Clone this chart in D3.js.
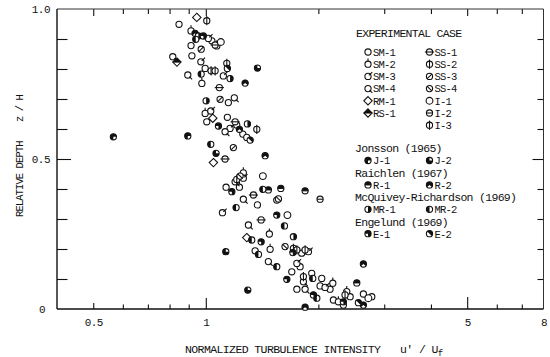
<!DOCTYPE html>
<html>
<head>
<meta charset="utf-8">
<script src="https://cdn.jsdelivr.net/npm/d3@7"></script>
<style>
  body { margin: 0; background: #fff; }
  svg text { font-family: "Liberation Mono", "DejaVu Sans Mono", monospace; fill: #111; }
</style>
</head>
<body>
<svg id="chart"></svg>
<script>
/* global d3 */

// ---- data: [u'/Uf, z/H] ----
var SM_1 = [[0.848,0.949],[1.038,0.894],[0.913,0.878],[0.918,0.844],[0.996,0.802],[1.149,0.688],
  [1.006,0.624],[1.142,0.639],[1.256,0.583],[1.287,0.572],[1.133,0.406],[1.374,0.347],[1.548,0.363],
  [1.805,0.186],[1.787,0.141],[1.698,0.124],[1.920,0.119],[2.042,0.102],[1.752,0.066],[2.021,0.077],
  [2.149,0.066],[2.432,0.041],[2.779,0.041],[2.194,0.030],[2.333,0.013]];
var SM_2 = [[0.913,0.927],[1.070,0.877],[0.976,0.752],[0.996,0.652],[1.210,0.613],[1.260,0.454],
  [1.230,0.406],[1.479,0.250],[1.486,0.199],[2.186,0.086],[2.382,0.058],[2.262,0.024]];
var SM_3 = [[1.016,0.902],[0.970,0.824],[1.114,0.777],[1.031,0.660],[1.161,0.602],[1.260,0.436],
  [1.108,0.321],[1.881,0.191],[1.752,0.152],[2.084,0.072]];
var SM_4 = [[0.816,0.841],[0.895,0.780],[1.192,0.704],[1.126,0.591],[1.198,0.424],[1.260,0.366],
  [1.300,0.280],[1.355,0.194],[1.470,0.158],[1.824,0.091],[1.843,0.066],[2.639,0.050]];
var RM_1 = [[0.946,0.972],[1.044,0.636],[1.048,0.488],[1.287,0.238]];
var RS_1 = [[0.837,0.823]];
var SS_1 = [[1.059,0.880],[1.087,0.738],[1.198,0.624],[1.126,0.500],[1.341,0.380],[1.406,0.297]];
var SS_2 = [[1.033,0.794],[1.059,0.794],[1.210,0.432],[1.715,0.202],[1.752,0.197],[1.843,0.197],
  [1.824,0.108],[2.357,0.047]];
var SS_3 = [[0.972,0.866],[1.092,0.699],[1.185,0.538]];
var SS_4 = [[1.235,0.443],[1.564,0.367],[1.629,0.208]];
var I_1 = [[1.097,0.890],[1.421,0.443],[1.653,0.313],[2.721,0.036]];
var I_2 = [[2.021,0.366]];
var I_3 = [[1.006,0.961],[1.138,0.819],[1.369,0.599]];
var J_1 = [[0.566,0.574],[0.895,0.577]];
var J_2 = [[1.374,0.803],[1.065,0.519],[1.131,0.191],[1.295,0.063]];
var R_1 = [[1.470,0.397],[1.587,0.402],[1.843,0.394],[2.534,0.087]];
var R_2 = [[0.936,0.919],[1.274,0.753],[1.230,0.599],[1.441,0.511],[2.639,0.150],[2.639,0.013],[1.843,0.006]];
var MR_1 = [[0.955,0.910],[1.161,0.768],[1.002,0.694],[1.292,0.617],[1.715,0.241]];
var MR_2 = [[0.940,0.899],[0.972,0.783],[1.031,0.549],[1.421,0.399],[1.205,0.338],[1.623,0.277],
  [1.327,0.230],[1.383,0.182],[1.548,0.141],[1.932,0.102],[1.981,0.036]];
var E_1 = [[0.985,0.910],[1.081,0.610],[1.174,0.391],[1.548,0.313],[1.406,0.224],[1.709,0.188],
  [1.647,0.099],[1.940,0.047],[2.333,0.024]];
var E_2 = [[1.142,0.802],[1.314,0.563],[2.559,0.021]];

// legend / tick text
var expCol1 = ["SM-1", "SM-2", "SM-3", "SM-4", "RM-1", "RS-1"];
var expCol2 = ["SS-1", "SS-2", "SS-3", "SS-4", "I-1", "I-2", "I-3"];
var authors = ["Jonsson (1965)", "Raichlen (1967)", "McQuivey-Richardson (1969)", "Engelund (1969)"];
var authorCases = [["J-1", "J-2"], ["R-1", "R-2"], ["MR-1", "MR-2"], ["E-1", "E-2"]];
var xLabels = [0.5, 1, 5, 8];
var xMinor = [0.6, 0.7, 0.8, 0.9, 2, 3, 4, 6, 7];
var yLabels = [0, 0.5, 1];
var yMinor = [0.1, 0.2, 0.3, 0.4, 0.6, 0.7, 0.8, 0.9];

var cases = {
  "SM-1": SM_1, "SM-2": SM_2, "SM-3": SM_3, "SM-4": SM_4, "RM-1": RM_1, "RS-1": RS_1,
  "SS-1": SS_1, "SS-2": SS_2, "SS-3": SS_3, "SS-4": SS_4, "I-1": I_1, "I-2": I_2, "I-3": I_3,
  "J-1": J_1, "J-2": J_2, "R-1": R_1, "R-2": R_2, "MR-1": MR_1, "MR-2": MR_2, "E-1": E_1, "E-2": E_2
};

var width = 550, height = 357,
  plot = { left: 57, right: 543.5, top: 9, bottom: 309 },
  ink = "#111";

var svg = d3.select("#chart").attr("width", width).attr("height", height);
svg.append("rect").attr("width", width).attr("height", height).attr("fill", "#fff");

var x = d3.scaleLog().domain([0.4, 8]).range([plot.left, plot.right]);
var y = d3.scaleLinear().domain([0, 1]).range([plot.bottom, plot.top]);

// ticks drawn by axes, inward
function ticks(axis, values, size, tx, ty) {
  var g = svg.append("g")
    .attr("transform", "translate(" + tx + "," + ty + ")")
    .call(axis.tickValues(values).tickSize(size).tickFormat(""));
  g.select(".domain").remove();
  g.selectAll("line").attr("stroke", ink).attr("stroke-width", 1.1);
  return g;
}

ticks(d3.axisBottom(x), xMinor, -4.5, 0, plot.bottom);
ticks(d3.axisBottom(x), [0.5], -6, 0, plot.bottom);
ticks(d3.axisBottom(x), [1], -11, 0, plot.bottom);
ticks(d3.axisBottom(x), [5], -12, 0, plot.bottom);
ticks(d3.axisBottom(x), xMinor, 5, 0, plot.top);
ticks(d3.axisBottom(x), [0.5, 1, 5], 7, 0, plot.top);
ticks(d3.axisRight(y), yMinor, 10.5, plot.left, 0);
ticks(d3.axisRight(y), [0.5], 14, plot.left, 0);
ticks(d3.axisLeft(y), yMinor, 6, plot.right, 0);
ticks(d3.axisLeft(y), [0.5], 11, plot.right, 0);

// frame
svg.append("line").attr("x1", plot.left).attr("x2", plot.right).attr("y1", plot.top).attr("y2", plot.top)
  .attr("stroke", "#333").attr("stroke-width", 1);
svg.append("line").attr("x1", plot.right).attr("x2", plot.right).attr("y1", plot.top).attr("y2", plot.bottom)
  .attr("stroke", "#333").attr("stroke-width", 1);
svg.append("line").attr("x1", plot.left).attr("x2", plot.left).attr("y1", plot.top).attr("y2", plot.bottom)
  .attr("stroke", ink).attr("stroke-width", 1.4);
svg.append("line").attr("x1", plot.left).attr("x2", plot.right).attr("y1", plot.bottom).attr("y2", plot.bottom)
  .attr("stroke", ink).attr("stroke-width", 1.7);

// tick labels
var fmtX = function (d) { return String(d); };
var gx = svg.append("g").attr("transform", "translate(0," + plot.bottom + ")")
  .call(d3.axisBottom(x).tickValues(xLabels).tickSize(0).tickPadding(9).tickFormat(fmtX));
gx.select(".domain").remove();
gx.selectAll("text").attr("fill", ink).style("font-size", "11px").style("letter-spacing", "-0.6px")
  .style("font-family", "Liberation Mono");

var gy = svg.append("g").attr("transform", "translate(" + plot.left + ",0)")
  .call(d3.axisLeft(y).tickValues(yLabels).tickSize(0).tickPadding(7)
    .tickFormat(function (d) { return d === 0 ? "0" : d3.format(".1f")(d); }));
gy.select(".domain").remove();
gy.selectAll("text").attr("fill", ink).style("font-size", "11px").style("letter-spacing", "-0.5px")
  .style("font-family", "Liberation Mono")
  .attr("x", function (d) { return d === 0 ? -12 : -7; });

// axis titles
var xt = svg.append("text").attr("x", 185).attr("y", 353)
  .style("font-size", "11.5px").style("letter-spacing", "-0.6px");
xt.append("tspan").text("NORMALIZED TURBULENCE INTENSITY");
xt.append("tspan").attr("x", 400).text("u' / U");
xt.append("tspan").attr("dy", 2.5).style("font-size", "9px").text("f");

var yt = svg.append("text").attr("transform", "translate(23,217) rotate(-90)")
  .style("font-size", "10.5px").style("letter-spacing", "-0.9px");
yt.append("tspan").text("RELATIVE DEPTH");
yt.append("tspan").attr("x", 95).text("z / H");

// symbols
var halfFill = {
  "J-1": [Math.PI, 2.5 * Math.PI], "J-2": [0.5 * Math.PI, 2 * Math.PI],
  "R-1": [-0.5 * Math.PI, 0.5 * Math.PI], "R-2": [-0.72 * Math.PI, 0.72 * Math.PI],
  "MR-1": [0, Math.PI], "MR-2": [Math.PI, 2 * Math.PI],
  "E-1": [-0.5 * Math.PI, Math.PI], "E-2": [-0.25 * Math.PI, 0.75 * Math.PI]
};

function symbol(g, type) {
  var r = 3.1, s = r * 1.35;
  var arc = d3.arc().innerRadius(0).outerRadius(r);
  var marks = {
    "SM-2": [[0, -r, 0, -r - 2.5]],
    "SM-3": [[0.3 * r, -0.3 * r, 1.35 * r, -1.35 * r]],
    "SM-4": [[0.5 * r, 0.5 * r, 1.4 * r, 1.4 * r]],
    "SS-1": [[-r - 1.5, 0, r + 1.5, 0]],
    "SS-2": [[0, -r - 1.5, 0, r + 1.5]],
    "SS-3": [[-0.75 * r, 0.75 * r, 0.75 * r, -0.75 * r]],
    "SS-4": [[-0.75 * r, -0.75 * r, 0.75 * r, 0.75 * r]],
    "I-2": [[-r, 0, r, 0]],
    "I-3": [[0, -r - 1.5, 0, r + 1.5]],
    "R-1": [[-r, 0, r, 0]],
    "RS-1": [[-s, 0, s, 0]]
  };
  if (type === "RM-1" || type === "RS-1") {
    g.append("path").attr("d", "M0," + (-s) + "L" + s + ",0L0," + s + "L" + (-s) + ",0Z")
      .attr("fill", "#fff").attr("stroke", ink).attr("stroke-width", 1.1);
    if (type === "RS-1")
      g.append("path").attr("d", "M" + (-s) + ",0L0," + (-s) + "L" + s + ",0Z").attr("fill", ink);
  } else {
    g.append("circle").attr("r", type === "I-1" ? r + 0.3 : r)
      .attr("fill", "#fff").attr("stroke", ink).attr("stroke-width", 1.1);
    if (halfFill[type])
      g.append("path").attr("fill", ink)
        .attr("d", arc({ startAngle: halfFill[type][0], endAngle: halfFill[type][1] }));
  }
  (marks[type] || []).forEach(function (m) {
    g.append("line").attr("x1", m[0]).attr("y1", m[1]).attr("x2", m[2]).attr("y2", m[3])
      .attr("stroke", ink).attr("stroke-width", 1.1);
  });
}

// points
Object.keys(cases).forEach(function (name) {
  svg.append("g").attr("class", "case")
    .selectAll("g").data(cases[name]).enter().append("g")
    .attr("transform", function (d) { return "translate(" + x(d[0]) + "," + y(d[1]) + ")"; })
    .each(function () { symbol(d3.select(this), name); });
});

// legend
var leg = svg.append("g").attr("class", "legend");
leg.append("text").attr("x", 356).attr("y", 37)
  .style("font-size", "11.5px").style("letter-spacing", "-0.7px").text("EXPERIMENTAL CASE");

function legendItem(name, sx, cy) {
  symbol(leg.append("g").attr("transform", "translate(" + sx + "," + cy + ")"), name);
  leg.append("text").attr("x", sx + 5).attr("y", cy + 3.8)
    .style("font-size", "10.5px").style("letter-spacing", "-0.8px").text(name);
}
expCol1.forEach(function (n, i) { legendItem(n, 368, 52 + i * 12.2); });
expCol2.forEach(function (n, i) { legendItem(n, 429.5, 52 + i * 12.2); });

authors.forEach(function (a, k) {
  var top = 148.3 + k * 24.4;
  leg.append("text").attr("x", 355).attr("y", top + 4)
    .style("font-size", "11.5px").style("letter-spacing", "-0.7px").text(a);
  legendItem(authorCases[k][0], 368, top + 12.2);
  legendItem(authorCases[k][1], 429.5, top + 12.2);
});
</script>
</body>
</html>
